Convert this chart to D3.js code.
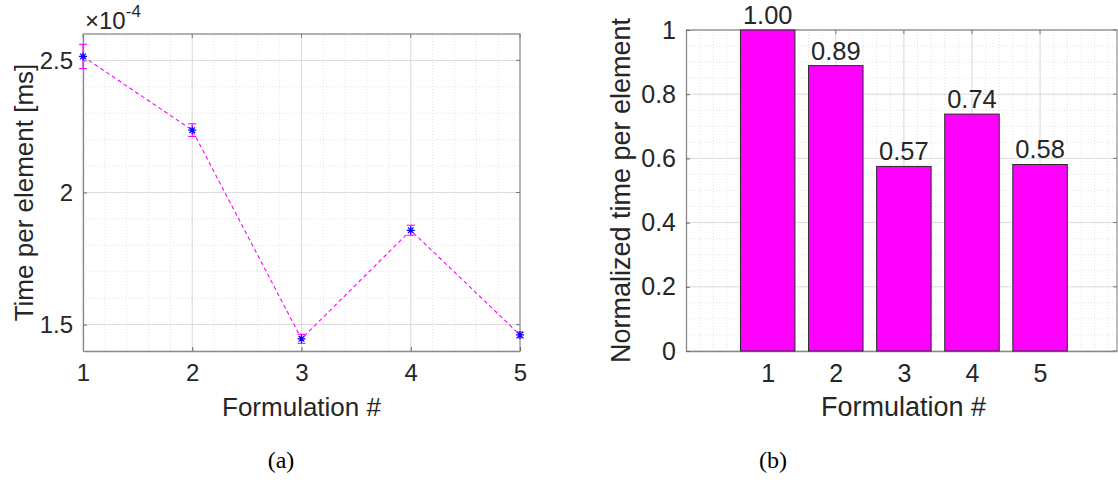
<!DOCTYPE html>
<html lang="en">
<head>
<meta charset="UTF-8">
<title>Time per element by formulation</title>
<style>
    body { margin: 0; background: #fff; }
    svg text { font-family: "Liberation Sans", Arial, sans-serif; fill: #262626; }
    .caption { font-family: "Liberation Serif", "Times New Roman", serif; fill: #000; }
</style>
</head>
<body>
<svg id="chart" width="1118" height="486"></svg>
<script src="https://d3js.org/d3.v7.min.js"></script>
<script>
    // values
    const formulations = [1, 2, 3, 4, 5];
    const timePerElement = [2.515, 2.236, 1.446, 1.857, 1.461];   // x 1e-4 ms
    const timeError = [0.046, 0.024, 0.017, 0.019, 0.011];
    const normalizedTime = [1.00, 0.889, 0.575, 0.738, 0.581];
    const yTicksA = [1.5, 2, 2.5];
    const yTicksB = [0, 0.2, 0.4, 0.6, 0.8, 1];

    const svg = d3.select('#chart');
    svg.append('rect').attr('width', 1118).attr('height', 486).attr('fill', '#fff');

    const magenta = '#ff00ff';

    // draws grid + box + ticks for one panel
    function drawFrame(g, x, y, xMinor, yMinor, xMajor, yMajor, tickSize) {
        const [x0, x1] = x.range();
        const [y0, y1] = y.range();   // y0 = bottom

        g.append('g').selectAll('line').data(xMinor).enter().append('line')
            .attr('x1', d => x(d)).attr('x2', d => x(d)).attr('y1', y0).attr('y2', y1)
            .attr('stroke', '#e2e2e2').attr('stroke-dasharray', '1,2');
        g.append('g').selectAll('line').data(yMinor).enter().append('line')
            .attr('y1', d => y(d)).attr('y2', d => y(d)).attr('x1', x0).attr('x2', x1)
            .attr('stroke', '#e2e2e2').attr('stroke-dasharray', '1,2');
        g.append('g').selectAll('line').data(xMajor).enter().append('line')
            .attr('x1', d => x(d)).attr('x2', d => x(d)).attr('y1', y0).attr('y2', y1)
            .attr('stroke', '#dcdcdc');
        g.append('g').selectAll('line').data(yMajor).enter().append('line')
            .attr('y1', d => y(d)).attr('y2', d => y(d)).attr('x1', x0).attr('x2', x1)
            .attr('stroke', '#dcdcdc');

        // top / right box
        g.append('path')
            .attr('d', `M${x0},${y1}H${x1}V${y0}`)
            .attr('fill', 'none').attr('stroke', '#9a9a9a').attr('stroke-width', 1.3);

        // inward ticks on top and right
        g.append('g').selectAll('line').data(xMajor).enter().append('line')
            .attr('x1', d => x(d)).attr('x2', d => x(d)).attr('y1', y1).attr('y2', y1 + 4)
            .attr('stroke', '#777');
        g.append('g').selectAll('line').data(yMajor).enter().append('line')
            .attr('y1', d => y(d)).attr('y2', d => y(d)).attr('x1', x1).attr('x2', x1 - 4)
            .attr('stroke', '#777');

        const xAxis = g.append('g').attr('transform', `translate(0,${y0})`)
            .call(d3.axisBottom(x).tickValues(xMajor).tickSizeInner(-4).tickSizeOuter(0).tickPadding(13)
                .tickFormat(d3.format('d')));
        const yAxis = g.append('g').attr('transform', `translate(${x0},0)`)
            .call(d3.axisLeft(y).tickValues(yMajor).tickSizeInner(-4).tickSizeOuter(0).tickPadding(10)
                .tickFormat(d3.format('~g')));
        [xAxis, yAxis].forEach(a => {
            a.select('.domain').attr('stroke', '#8a8a8a').attr('stroke-width', 1.3);
            a.selectAll('.tick line').attr('stroke', '#666');
            a.selectAll('text').attr('font-size', tickSize).attr('fill', '#262626')
                .attr('font-family', '"Liberation Sans", Arial, sans-serif');
        });
        xAxis.selectAll('text').attr('dy', '0.71em');
    }

    // ---------- panel (a) ----------
    const xA = d3.scaleLinear().domain([1, 5]).range([83, 520]);
    const yA = d3.scaleLinear().domain([1.4, 2.6]).range([351, 34]);
    const gA = svg.append('g');
    drawFrame(gA, xA, yA,
        d3.range(1, 5.001, 0.2).map(d => +d.toFixed(1)),
        d3.range(1.4, 2.601, 0.1).map(d => +d.toFixed(1)),
        formulations, yTicksA, 24);

    const ptsA = formulations.map((f, i) => ({ f, v: timePerElement[i], e: timeError[i] }));

    gA.append('path').datum(ptsA)
        .attr('d', d3.line().x(d => xA(d.f)).y(d => yA(d.v)))
        .attr('fill', 'none').attr('stroke', magenta).attr('stroke-width', 1.1)
        .attr('stroke-dasharray', '4,3');

    const eb = gA.append('g').selectAll('g').data(ptsA).enter().append('g')
        .attr('stroke', magenta).attr('stroke-width', 1.1);
    eb.append('line').attr('x1', d => xA(d.f)).attr('x2', d => xA(d.f))
        .attr('y1', d => yA(d.v - d.e)).attr('y2', d => yA(d.v + d.e));
    eb.append('line').attr('x1', d => xA(d.f) - 4).attr('x2', d => xA(d.f) + 4)
        .attr('y1', d => yA(d.v - d.e)).attr('y2', d => yA(d.v - d.e));
    eb.append('line').attr('x1', d => xA(d.f) - 4).attr('x2', d => xA(d.f) + 4)
        .attr('y1', d => yA(d.v + d.e)).attr('y2', d => yA(d.v + d.e));

    // asterisk markers
    const star = d3.symbol().type({
        draw(ctx, size) {
            const r = Math.sqrt(size) / 2;
            const q = r * 0.7071;
            ctx.moveTo(-r, 0); ctx.lineTo(r, 0);
            ctx.moveTo(0, -r); ctx.lineTo(0, r);
            ctx.moveTo(-q, -q); ctx.lineTo(q, q);
            ctx.moveTo(-q, q); ctx.lineTo(q, -q);
        }
    }).size(64);
    gA.append('g').selectAll('path').data(ptsA).enter().append('path')
        .attr('d', star)
        .attr('transform', d => `translate(${xA(d.f)},${yA(d.v)})`)
        .attr('fill', 'none').attr('stroke', '#0000ff').attr('stroke-width', 1.2);

    // exponent
    const expo = gA.append('text').attr('x', 85).attr('y', 29).attr('font-size', 24);
    expo.append('tspan').text('×10');
    expo.append('tspan').attr('dy', -12).attr('font-size', 17).text('-4');

    gA.append('text')
        .attr('transform', `translate(33,${(34 + 351) / 2}) rotate(-90)`)
        .attr('text-anchor', 'middle').attr('font-size', 26)
        .text('Time per element [ms]');
    gA.append('text')
        .attr('x', (83 + 520) / 2).attr('y', 416)
        .attr('text-anchor', 'middle').attr('font-size', 26)
        .text('Formulation #');
    svg.append('text').attr('class', 'caption')
        .attr('x', 281).attr('y', 468).attr('text-anchor', 'middle').attr('font-size', 24)
        .text('(a)');

    // ---------- panel (b) ----------
    const xB = d3.scaleLinear().domain([-0.2, 6.13]).range([686, 1117]);
    const yB = d3.scaleLinear().domain([0, 1]).range([351, 30]);
    const gB = svg.append('g');
    drawFrame(gB, xB, yB,
        d3.range(0, 6.01, 0.2).map(d => +d.toFixed(1)),
        d3.range(0, 1.001, 0.05).map(d => +d.toFixed(2)),
        formulations, yTicksB, 25);

    const barW = xB(0.8) - xB(0);
    const ptsB = formulations.map((f, i) => ({ f, v: normalizedTime[i] }));
    gB.append('g').selectAll('rect').data(ptsB).enter().append('rect')
        .attr('x', d => xB(d.f) - barW / 2)
        .attr('y', d => yB(d.v))
        .attr('width', barW)
        .attr('height', d => yB(0) - yB(d.v))
        .attr('fill', magenta).attr('stroke', '#2a2a2a').attr('stroke-width', 1);

    gB.append('g').selectAll('text').data(ptsB).enter().append('text')
        .attr('x', d => xB(d.f)).attr('y', d => yB(d.v) - 6)
        .attr('text-anchor', 'middle').attr('font-size', 25.5).attr('fill', '#000')
        .text(d => d.v.toFixed(2));

    gB.append('text')
        .attr('transform', `translate(630,${(30 + 351) / 2}) rotate(-90)`)
        .attr('text-anchor', 'middle').attr('font-size', 27)
        .text('Normalized time per element');
    gB.append('text')
        .attr('x', (686 + 1117) / 2 + 2).attr('y', 416)
        .attr('text-anchor', 'middle').attr('font-size', 27)
        .text('Formulation #');
    svg.append('text').attr('class', 'caption')
        .attr('x', 773).attr('y', 468).attr('text-anchor', 'middle').attr('font-size', 24)
        .text('(b)');
</script>
</body>
</html>
